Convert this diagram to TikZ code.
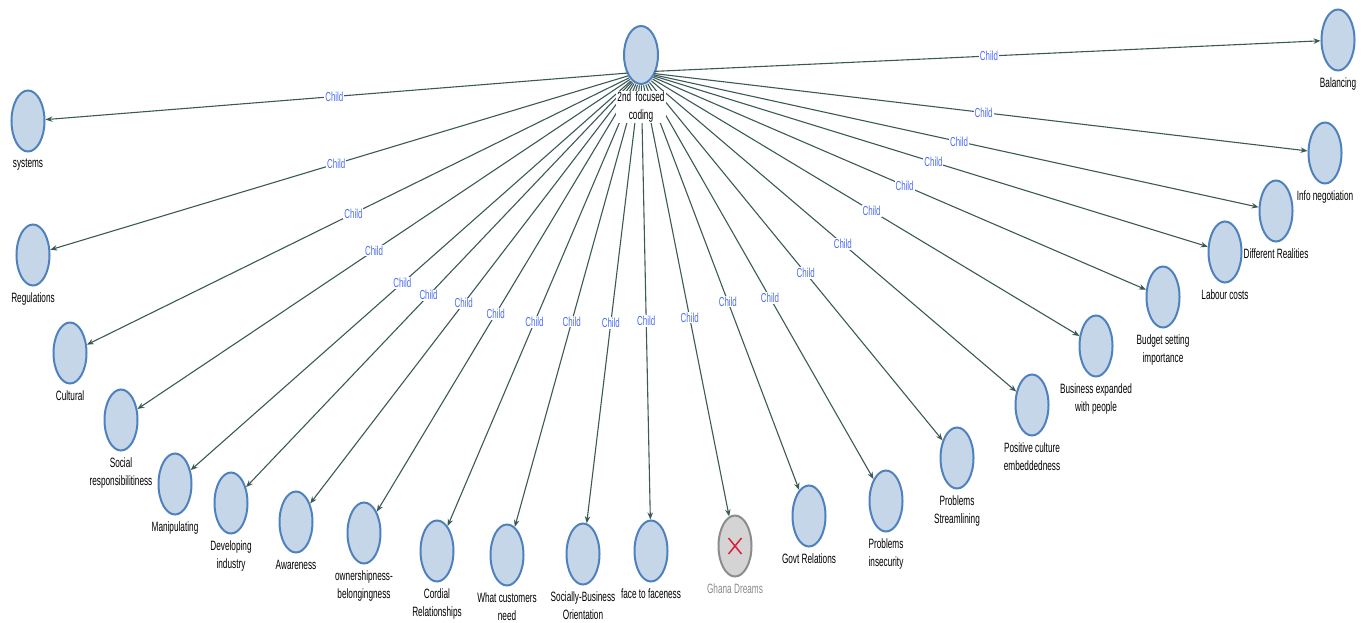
\documentclass[tikz,border=0pt]{standalone}
\usepackage{fontspec}
\newfontfamily\narrowfont[FakeStretch=0.61]{Liberation Sans}
\usetikzlibrary{shapes.geometric, arrows.meta, positioning}
\definecolor{codefill}{HTML}{C5D6E9}
\definecolor{codeedge}{HTML}{4F81BD}
\definecolor{ghostfill}{HTML}{D4D4D4}
\definecolor{ghostedge}{HTML}{8C8C8C}
\definecolor{ghostlabel}{HTML}{8A8A8A}
\definecolor{xred}{HTML}{D81E3C}
\definecolor{linkcol}{HTML}{3B5A57}
\definecolor{childblue}{HTML}{4D6DF3}
\tikzstyle{code} = [ellipse, draw=codeedge, fill=codefill, line width=2pt, minimum width=33pt, minimum height=61pt, inner sep=0pt]
\tikzstyle{deleted} = [code, draw=ghostedge, fill=ghostfill]
\tikzstyle{caption} = [font=\narrowfont\fontsize{13.5}{17.5}\selectfont, align=center, inner sep=1pt]
\tikzstyle{arrow} = [draw=linkcol, line width=1.1pt, -{Stealth[length=7pt,width=5.5pt]}, shorten <=13.5pt]
\tikzstyle{childtag} = [fill=white, text=childblue, font=\narrowfont\fontsize{13}{14}\selectfont, inner sep=1pt]

\begin{document}
\begin{tikzpicture}[x=1pt, y=-1pt, label distance=5.5pt]
			\useasboundingbox (0,0) rectangle (1370,623);
			% Nodes
			\node (core) [code, minimum width=34pt, minimum height=58pt] at (641,55) {};
			\node (systems) [code, label={[caption]below:systems}] at (28,121) {};
			\node (regulations) [code, label={[caption]below:Regulations}] at (33,255) {};
			\node (cultural) [code, label={[caption]below:Cultural}] at (70,353) {};
			\node (social) [code, label={[caption]below:{Social\\responsibilitiness}}] at (121,420) {};
			\node (manipulating) [code, label={[caption]below:Manipulating}] at (175,484) {};
			\node (developing) [code, label={[caption]below:{Developing\\industry}}] at (231,503) {};
			\node (awareness) [code, label={[caption]below:Awareness}] at (296,522) {};
			\node (ownership) [code, label={[caption]below:{ownershipness-\\belongingness}}] at (364,533) {};
			\node (cordial) [code, label={[caption]below:{Cordial\\Relationships}}] at (437,551) {};
			\node (customers) [code, label={[caption]below:{What customers\\need}}] at (507,555) {};
			\node (sociallybus) [code, label={[caption]below:{Socially-Business\\Orientation}}] at (583,554) {};
			\node (facetoface) [code, label={[caption]below:face to faceness}] at (651,551) {};
			\node (ghana) [deleted, label={[caption, text=ghostlabel]below:Ghana Dreams}] at (735,546) {};
			\node (govt) [code, label={[caption]below:Govt Relations}] at (809,516) {};
			\node (insecurity) [code, label={[caption]below:{Problems\\insecurity}}] at (886,501) {};
			\node (streamlining) [code, label={[caption]below:{Problems\\Streamlining}}] at (957,458) {};
			\node (positive) [code, label={[caption]below:{Positive culture\\embeddedness}}] at (1032,405) {};
			\node (expanded) [code, label={[caption]below:{Business expanded\\with people}}] at (1096,346) {};
			\node (budget) [code, label={[caption]below:{Budget setting\\importance}}] at (1163,297) {};
			\node (labour) [code, label={[caption]below:Labour costs}] at (1225,252) {};
			\node (realities) [code, label={[caption]below:Different Realities}] at (1276,211) {};
			\node (infoneg) [code, label={[caption]below:Info negotiation}] at (1325,153) {};
			\node (balancing) [code, label={[caption]below:Balancing}] at (1338,40) {};
			\draw [xred, line width=1.5pt] (ghana.center) ++(-6.5,-8) -- ++(13,16);
			\draw [xred, line width=1.5pt] (ghana.center) ++(6.5,-8) -- ++(-13,16);
			\coordinate (hub) at (641,72);
			% Arrows
			\draw [arrow] (hub) -- node [childtag, pos=0.515] {Child} (systems);
			\draw [arrow] (hub) -- node [childtag, pos=0.516] {Child} (regulations);
			\draw [arrow] (hub) -- node [childtag, pos=0.519] {Child} (cultural);
			\draw [arrow] (hub) -- node [childtag, pos=0.53] {Child} (social);
			\draw [arrow] (hub) -- node [childtag, pos=0.53] {Child} (manipulating);
			\draw [arrow] (hub) -- node [childtag, pos=0.538] {Child} (developing);
			\draw [arrow] (hub) -- node [childtag, pos=0.536] {Child} (awareness);
			\draw [arrow] (hub) -- node [childtag, pos=0.55] {Child} (ownership);
			\draw [arrow] (hub) -- node [childtag, pos=0.551] {Child} (cordial);
			\draw [arrow] (hub) -- node [childtag, pos=0.549] {Child} (customers);
			\draw [arrow] (hub) -- node [childtag, pos=0.556] {Child} (sociallybus);
			\draw [arrow] (hub) -- node [childtag, pos=0.556] {Child} (facetoface);
			\draw [arrow] (hub) -- node [childtag, pos=0.553] {Child} (ghana);
			\draw [arrow] (hub) -- node [childtag, pos=0.549] {Child} (govt);
			\draw [arrow] (hub) -- node [childtag, pos=0.555] {Child} (insecurity);
			\draw [arrow] (hub) -- node [childtag, pos=0.546] {Child} (streamlining);
			\draw [arrow] (hub) -- node [childtag, pos=0.538] {Child} (positive);
			\draw [arrow] (hub) -- node [childtag, pos=0.526] {Child} (expanded);
			\draw [arrow] (hub) -- node [childtag, pos=0.522] {Child} (budget);
			\draw [arrow] (hub) -- node [childtag, pos=0.516] {Child} (labour);
			\draw [arrow] (hub) -- node [childtag, pos=0.515] {Child} (realities);
			\draw [arrow] (hub) -- node [childtag, pos=0.514] {Child} (infoneg);
			\draw [arrow] (hub) -- node [childtag, pos=0.512] {Child} (balancing);
			\node (corelabel) [caption, fill=white, below=6pt of core] {2nd~ focused\\coding};
		\end{tikzpicture}
\end{document}
